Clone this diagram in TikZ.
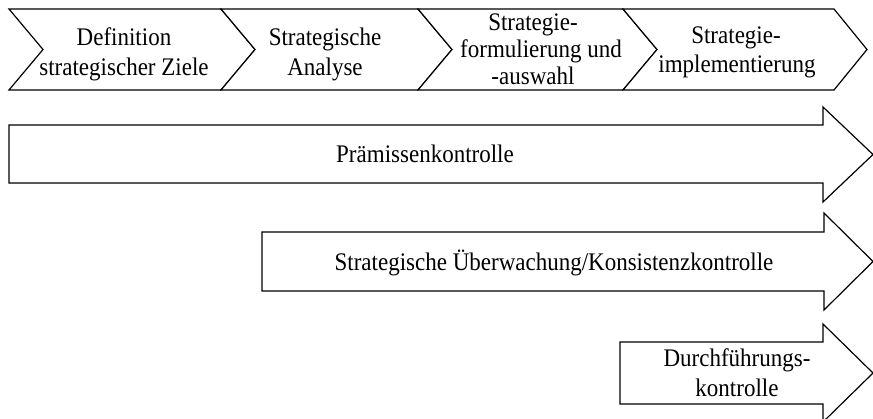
\documentclass[tikz,border=0pt]{standalone}
\usepackage{fontspec}
\setmainfont{Liberation Serif}
% labels are set slightly taller than their natural shape
\newcommand{\tall}[1]{\scalebox{1}[1.1]{#1}}
\begin{document}
\begin{tikzpicture}[x=1pt,y=-1pt,
  outline/.style={draw=black, line width=1.2pt, line join=miter, fill=white},
  lbl/.style={anchor=base, inner sep=0pt, font=\fontsize{23}{27}\selectfont}]
\useasboundingbox (0,0) rectangle (873,418);

% process chevrons
\draw[outline] (9,9) -- (221,9) -- (255,49.5) -- (221,90) -- (9,90) -- (43,49.5) -- cycle;
\draw[outline] (221,9) -- (418,9) -- (452,49.5) -- (418,90) -- (221,90) -- (255,49.5) -- cycle;
\draw[outline] (418,9) -- (623,9) -- (657,49.5) -- (623,90) -- (418,90) -- (452,49.5) -- cycle;
\draw[outline] (623,9) -- (834,9) -- (867,49.5) -- (834,90) -- (623,90) -- (657,49.5) -- cycle;

\node[lbl] (c1a) at (124,45) {\tall{Definition}};
\node[lbl] (c1b) at (124,75) {\tall{strategischer Ziele}};
\node[lbl] (c2a) at (325,45) {\tall{Strategische}};
\node[lbl] (c2b) at (325,75) {\tall{Analyse}};
\node[lbl] (c3a) at (533,30) {\tall{Strategie-}};
\node[lbl] (c3b) at (541,57) {\tall{formulierung und}};
\node[lbl] (c3c) at (533,84) {\tall{-auswahl}};
\node[lbl] (c4a) at (736,43) {\tall{Strategie-}};
\node[lbl] (c4b) at (737,72) {\tall{implementierung}};

% control arrows
\draw[outline] (9,125) -- (823,125) -- (823,107) -- (873,154.5) -- (823,202) -- (823,183) -- (9,183) -- cycle;
\draw[outline] (262,232) -- (824,232) -- (824,213) -- (873,261.5) -- (824,310) -- (824,291) -- (262,291) -- cycle;
\draw[outline] (620,342) -- (823,342) -- (823,324) -- (873,373) -- (823,422) -- (823,404) -- (620,404) -- cycle;

\node[lbl] (a1) at (425,162) {\tall{Prämissenkontrolle}};
\node[lbl] (a2) at (554,270) {\tall{Strategische Überwachung/Konsistenzkontrolle}};
\node[lbl] (a3a) at (737,366) {\tall{Durchführungs-}};
\node[lbl] (a3b) at (737,396) {\tall{kontrolle}};
\end{tikzpicture}
\end{document}
